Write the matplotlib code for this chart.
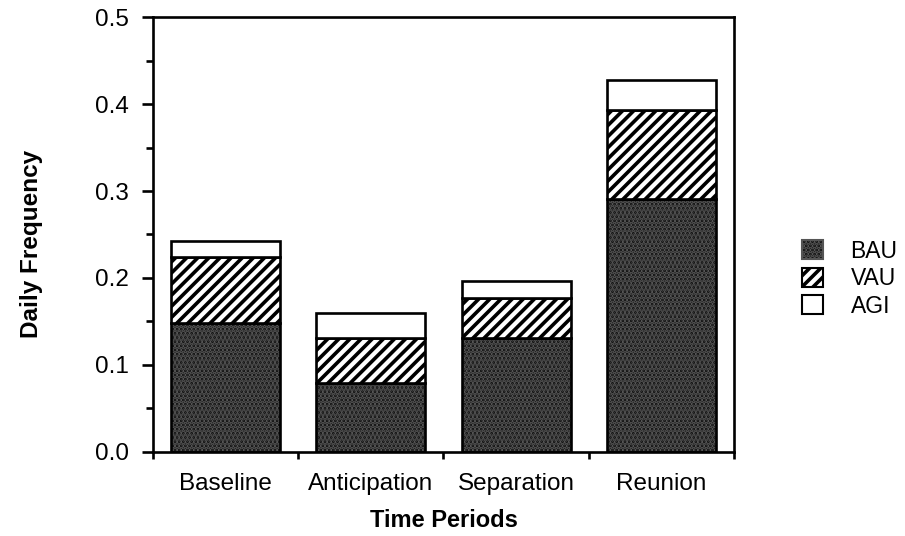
import numpy as np
from matplotlib import pyplot as plt
import matplotlib.patches as mpatches
from matplotlib.ticker import MultipleLocator, FixedLocator, NullFormatter

periods = ['Baseline', 'Anticipation', 'Separation', 'Reunion']
bau = [0.148, 0.079, 0.131, 0.291]
vau = [0.076, 0.052, 0.046, 0.102]
agi = [0.019, 0.029, 0.019, 0.035]

plt.rcParams['font.family'] = ['Liberation Sans', 'DejaVu Sans']
plt.rcParams['hatch.linewidth'] = 2.6

fig = plt.figure(figsize=(9.05, 5.36), dpi=100)
ax = fig.add_axes([0.169, 0.157, 0.642, 0.811])

x = np.arange(len(periods))
w = 0.75
bau = np.array(bau)
vau = np.array(vau)
agi = np.array(agi)

# speckled dark fill, outline drawn on top
ax.bar(x, bau, w, color='#111111', edgecolor='#555555', hatch='....', linewidth=0)
ax.bar(x, bau, w, fill=False, edgecolor='black', linewidth=1.9)
ax.bar(x, vau, w, bottom=bau, color='white', edgecolor='black', hatch='///', linewidth=1.9)
ax.bar(x, agi, w, bottom=bau + vau, color='white', edgecolor='black', linewidth=1.9)

ax.set_xlim(-0.5, 3.5)
ax.set_ylim(0, 0.5)
ax.yaxis.set_major_locator(MultipleLocator(0.1))
ax.yaxis.set_minor_locator(MultipleLocator(0.05))
ax.yaxis.set_major_formatter(plt.FuncFormatter(lambda v, p: f'{v:.1f}'))

ax.set_xticks(x)
ax.set_xticklabels(periods)
ax.tick_params(axis='x', which='major', length=0, pad=15, labelsize=17.5)
ax.xaxis.set_minor_locator(FixedLocator([-0.5, 0.5, 1.5, 2.5, 3.5]))
ax.xaxis.set_minor_formatter(NullFormatter())
ax.tick_params(axis='x', which='minor', length=5, width=1.9, direction='out')
ax.tick_params(axis='y', which='major', length=8, width=1.9, pad=9, labelsize=17.5)
ax.tick_params(axis='y', which='minor', length=5, width=1.9)

for s in ax.spines.values():
    s.set_linewidth(1.9)

ax.set_xlabel('Time Periods', fontsize=17, fontweight='bold', labelpad=10)
fig.text(0.035, 0.545, 'Daily Frequency', rotation=90, fontsize=17.5,
         fontweight='bold', ha='center', va='center')

handles = [
    mpatches.Patch(facecolor='#111111', edgecolor='#555555', hatch='....', linewidth=1.5),
    mpatches.Patch(facecolor='white', edgecolor='black', hatch='///', linewidth=1.5),
    mpatches.Patch(facecolor='white', edgecolor='black', linewidth=1.5),
]
fig.legend(handles, ['BAU', 'VAU', 'AGI'], loc='center left',
           bbox_to_anchor=(0.874, 0.48), frameon=False, fontsize=16.5,
           handlelength=0.9, handleheight=0.9, handletextpad=1.2,
           labelspacing=0.2, borderpad=0)

fig.savefig('out.png', dpi=100)
